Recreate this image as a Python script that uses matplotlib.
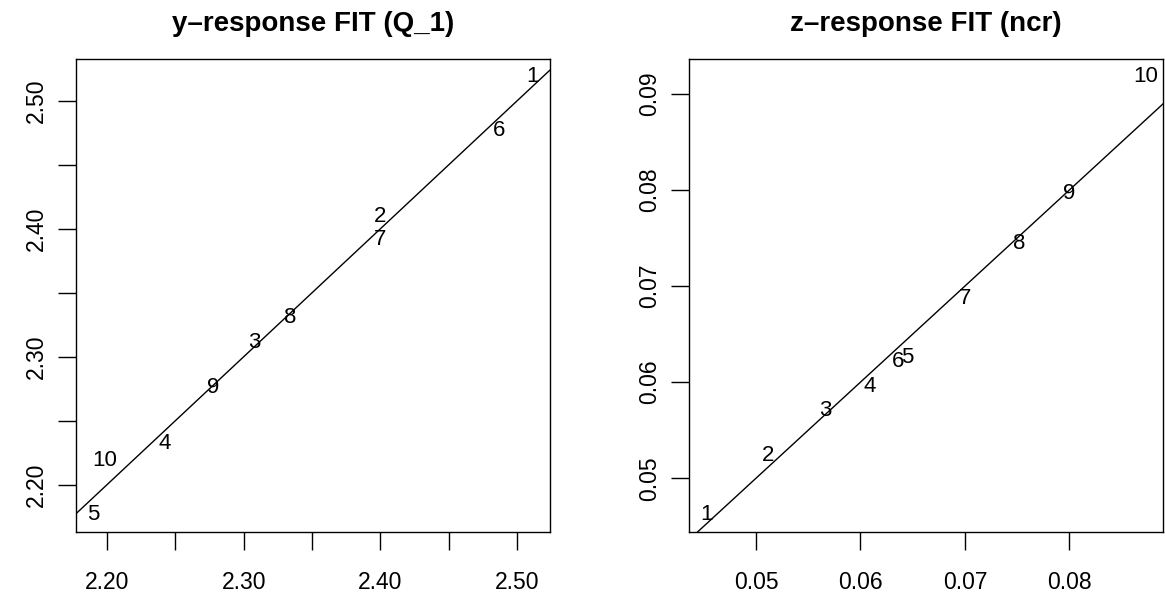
import numpy as np
import matplotlib.pyplot as plt

plt.rcParams['font.family'] = ['Liberation Sans', 'DejaVu Sans']

# y-response (Q_1): observed vs fitted
q1_x = [2.511, 2.400, 2.308, 2.242, 2.190, 2.487, 2.400, 2.334, 2.278, 2.198]
q1_y = [2.519, 2.410, 2.311, 2.232, 2.177, 2.477, 2.392, 2.331, 2.276, 2.219]

# z-response (ncr): observed vs fitted
ncr_x = [0.0453, 0.0512, 0.0566, 0.0609, 0.0645, 0.0636, 0.0700, 0.0752, 0.0800, 0.0873]
ncr_y = [0.0462, 0.0524, 0.0571, 0.0595, 0.0626, 0.0622, 0.0687, 0.0744, 0.0796, 0.0918]

point_labels = [str(i) for i in range(1, 11)]

q1_xticks = [2.20, 2.25, 2.30, 2.35, 2.40, 2.45, 2.50]
q1_xticklabels = ['2.20', '', '2.30', '', '2.40', '', '2.50']
ncr_xticks = [0.05, 0.06, 0.07, 0.08]
ncr_yticks = [0.05, 0.06, 0.07, 0.08, 0.09]


def r_lims(v):
    lo, hi = min(v), max(v)
    pad = 0.04 * (hi - lo)
    return lo - pad, hi + pad


fig = plt.figure(figsize=(11.65, 6.06), dpi=100)
ax1 = fig.add_axes([75.7 / 1165, 74.3 / 606, 474 / 1165, 472.7 / 606])
ax2 = fig.add_axes([689.3 / 1165, 73.7 / 606, 474 / 1165, 473.3 / 606])

panels = [
    (ax1, q1_x, q1_y, 'y\u2013response FIT (Q_1)', q1_xticks, q1_xticklabels, q1_xticks, q1_xticklabels),
    (ax2, ncr_x, ncr_y, 'z\u2013response FIT (ncr)', ncr_xticks, ['%.2f' % t for t in ncr_xticks],
     ncr_yticks, ['%.2f' % t for t in ncr_yticks]),
]

for ax, xs, ys, title, xt, xtl, yt, ytl in panels:
    ax.set_xlim(r_lims(xs))
    ax.set_ylim(r_lims(ys))
    lo = ax.get_xlim()[0]
    ax.axline((lo, lo), slope=1, color='black', linewidth=1.0)
    for x, y, lab in zip(xs, ys, point_labels):
        ax.text(x, y, lab, ha='center', va='center', fontsize=16)
    ax.set_xticks(xt)
    ax.set_xticklabels(xtl)
    ax.set_yticks(yt)
    ax.set_yticklabels(ytl, rotation=90, va='center')
    ax.tick_params(direction='out', length=13, width=1.0, labelsize=16.5)
    ax.tick_params(axis='x', pad=15)
    ax.tick_params(axis='y', pad=7)
    for s in ax.spines.values():
        s.set_linewidth(1.0)
    ax.set_title(title, fontsize=20, fontweight='bold', pad=20)

fig.savefig('out.png', dpi=100)
